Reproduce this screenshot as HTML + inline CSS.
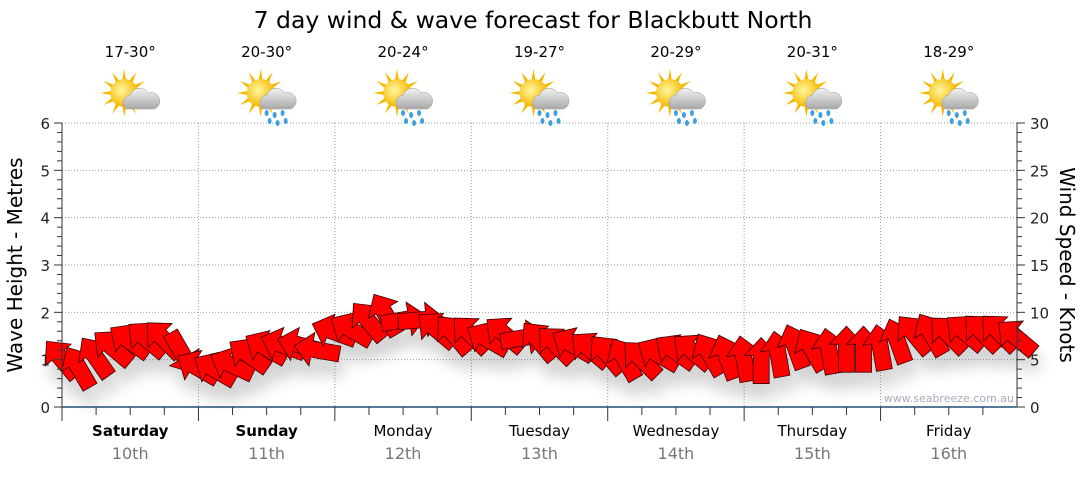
<!DOCTYPE html>
<html><head><meta charset="utf-8"><style>
body{margin:0;background:#fff;font-family:"Liberation Sans","DejaVu Sans",sans-serif}
svg text{font-family:"DejaVu Sans","Liberation Sans",sans-serif}
</style></head><body>
<svg id="c" width="1080" height="475" viewBox="0 0 1080 475" xmlns="http://www.w3.org/2000/svg">
<defs>
<filter id="sh" x="-50%" y="-50%" width="200%" height="200%"><feGaussianBlur stdDeviation="7"/></filter>
<radialGradient id="sun" cx="0.4" cy="0.4" r="0.6"><stop offset="0" stop-color="#fff7a0"/><stop offset="1" stop-color="#f5b800"/></radialGradient>
<linearGradient id="cloud" x1="0" y1="0" x2="0" y2="1"><stop offset="0" stop-color="#f2f2f2"/><stop offset="1" stop-color="#a8a8a8"/></linearGradient>
</defs>
<text x="533" y="28" font-size="23.5" text-anchor="middle" fill="#000">7 day wind &amp; wave forecast for Blackbutt North</text>
<g id="grid"></g>
<g id="shadows" filter="url(#sh)" opacity="0.25"></g>
<g id="arrows"></g>
<g id="axes"></g>
<text transform="translate(22,265) rotate(-90)" font-size="20" text-anchor="middle">Wave Height - Metres</text>
<text transform="translate(1060,265) rotate(90)" font-size="20" text-anchor="middle">Wind Speed - Knots</text>
<text x="1014" y="402" font-size="11" text-anchor="end" fill="#aab">www.seabreeze.com.au</text>
</svg>
<script>
const days=["Saturday","Sunday","Monday","Tuesday","Wednesday","Thursday","Friday"];
const dates=["10th","11th","12th","13th","14th","15th","16th"];
const temps=["17-30°","20-30°","20-24°","19-27°","20-29°","20-31°","18-29°"];
const rainy=[false,true,true,true,true,true,true];
const waveTicks=[0,1,2,3,4,5,6];
const windTicks=[0,5,10,15,20,25,30];
const windSpeed=[5.0,4.1,5.2,6.2,6.9,7.1,7.1,5.8,4.1,3.9,4.4,5.4,6.2,6.5,6.5,6.0,7.9,8.1,9.0,9.7,9.2,9.2,8.1,7.6,7.6,7.1,7.6,7.3,6.9,6.5,6.5,6.0,5.5,5.0,5.0,5.5,5.8,5.8,5.5,5.2,5.0,4.8,5.5,6.3,6.0,5.8,6.0,6.0,6.2,6.9,7.6,7.6,7.6,7.8,7.8,7.8,7.3];
const windDir=[-40,-30,-35,-50,-55,-50,-45,150,-60,-60,-65,-55,-60,-70,-75,-80,-70,-60,-40,-30,80,85,-50,-40,-45,-60,-50,80,-40,-45,-60,-50,-40,-30,-45,-60,-55,-50,-30,-20,-10,0,-10,-20,-30,-10,0,0,-10,-20,-40,-30,-45,-50,-45,-45,-50];
const NS="http://www.w3.org/2000/svg";
const X0=62,X1=1017,Y0=407,Y1=123;
const dayW=(X1-X0)/days.length;
const yWave=v=>Y0-(v/6)*(Y0-Y1);
const yWind=v=>Y0-(v/30)*(Y0-Y1);
const xIdx=i=>X0+i*(X1-X0)/(windSpeed.length-1);
function mk(tag,attrs,parent){const e=document.createElementNS(NS,tag);for(const k in attrs)e.setAttribute(k,attrs[k]);parent.appendChild(e);return e;}
const grid=document.getElementById('grid'),axes=document.getElementById('axes');
const svg=document.getElementById('c');
waveTicks.forEach(v=>{
  if(v>0){const l=mk('line',{x1:X0,x2:X1,y1:yWave(v),y2:yWave(v),stroke:'#999','stroke-dasharray':'1,2'},grid);
  
  }
  const t=mk('text',{x:50,y:yWave(v)+6,'font-size':15,'text-anchor':'end',fill:'#222'},axes);t.textContent=v;
  
  
});
for(let m=0;m<=30;m++){const y=Y0-m*(Y0-Y1)/30;mk('line',{x1:X0-(m%5?5:8),x2:X0,y1:y,y2:y,stroke:'#333'},axes);mk('line',{x1:X1,x2:X1+(m%5?5:8),y1:y,y2:y,stroke:'#333'},axes);}
windTicks.forEach(v=>{const t=mk('text',{x:1030,y:yWind(v)+6,'font-size':15,fill:'#222'},axes);t.textContent=v;
  
  });
mk('line',{x1:X0,x2:X0,y1:Y1,y2:Y0,stroke:'#333'},axes);
mk('line',{x1:X1,x2:X1,y1:Y1,y2:Y0,stroke:'#333'},axes);
mk('line',{x1:X0,x2:X1,y1:Y0,y2:Y0,stroke:'#1f4e79','stroke-width':1.5},axes);
days.forEach((d,i)=>{
  const x=X0+i*dayW,cx=x+dayW/2;
  if(i>0){const l=mk('line',{x1:x,x2:x,y1:Y1,y2:Y0,stroke:'#999','stroke-dasharray':'1,2'},grid);
  
  }
  for(let k=0;k<4;k++){const tx=x+k*dayW/4;mk('line',{x1:tx,x2:tx,y1:Y0,y2:Y0+(k?8:14),stroke:'#333'},axes);}
  const t=mk('text',{x:cx,y:436,'font-size':15,'text-anchor':'middle','font-weight':i<2?'bold':'normal'},svg);t.textContent=d;
  
  
  const t2=mk('text',{x:cx,y:459,'font-size':16,'text-anchor':'middle',fill:'#777'},svg);t2.textContent=dates[i];
  
  
  const t3=mk('text',{x:cx,y:57,'font-size':15,'text-anchor':'middle'},svg);t3.textContent=temps[i];
  
  
  const g=mk('g',{transform:`translate(${cx+2},97)`},svg);
  
  
  for(let r=0;r<12;r++){const a=r*30*Math.PI/180;mk('polygon',{points:`${-8+Math.cos(a)*24},${-4+Math.sin(a)*24} ${-8+Math.cos(a+0.15)*13},${-4+Math.sin(a+0.15)*13} ${-8+Math.cos(a-0.15)*13},${-4+Math.sin(a-0.15)*13}`,fill:'#f5b800'},g);}
  mk('circle',{cx:-8,cy:-4,r:14,fill:'url(#sun)'},g);
  mk('path',{d:'M-6,12 a8,8 0 0 1 4,-14 a10,10 0 0 1 18,-2 a8,8 0 0 1 6,16 z',fill:'url(#cloud)',stroke:'#999','stroke-width':0.5},g);
  if(rainy[i]){[-2,6,14].forEach((dx,j)=>{mk('ellipse',{cx:dx,cy:16+j%2*2,rx:2,ry:3,fill:'#3aa0e0'},g);mk('ellipse',{cx:dx+3,cy:24+j%2*2,rx:2,ry:3,fill:'#3aa0e0'},g);});}
});
const shadows=document.getElementById('shadows'),arrows=document.getElementById('arrows');
const shape="0,-24 -17,-6 -8,-6 -8,22 8,22 8,-6 17,-6";
windSpeed.forEach((s,i)=>{
  const x=xIdx(i),y=yWind(s);
  mk('polygon',{points:shape,fill:'#555',transform:`translate(${x+4},${y+16}) rotate(${windDir[i]})`},shadows);
  const p=mk('polygon',{points:shape,fill:'#ff0000',stroke:'#3a0000','stroke-width':0.8,transform:`translate(${x},${y}) rotate(${windDir[i]})`},arrows);
  
  
});
</script>
</body></html>
